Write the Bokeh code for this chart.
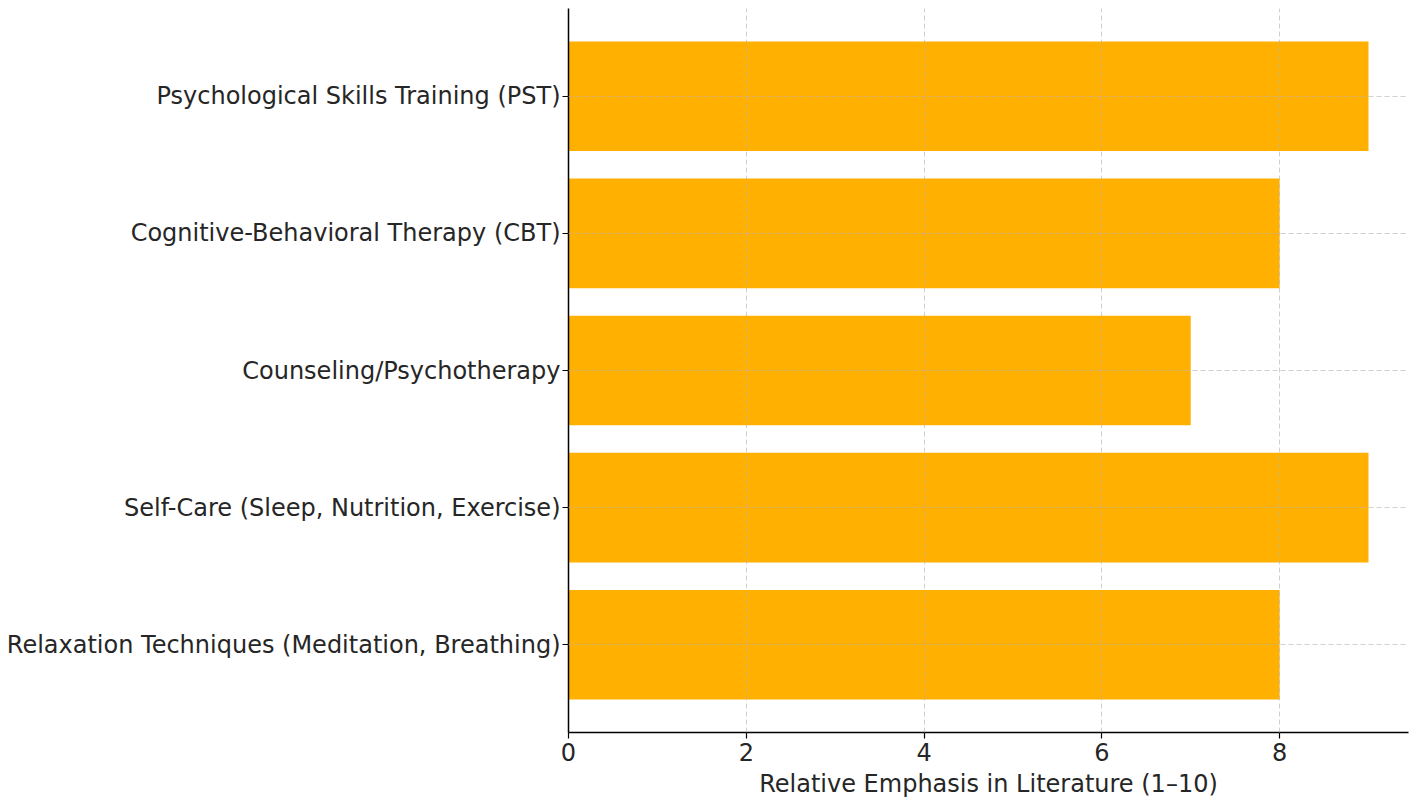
from bokeh.plotting import figure
from bokeh.models import Range1d, FixedTicker
from bokeh.embed import file_html
from bokeh.resources import INLINE

categories = [
    "Relaxation Techniques (Meditation, Breathing)",
    "Self-Care (Sleep, Nutrition, Exercise)",
    "Counseling/Psychotherapy",
    "Cognitive-Behavioral Therapy (CBT)",
    "Psychological Skills Training (PST)",
]
values = [8, 9, 7, 8, 9]
x_ticks = [0, 2, 4, 6, 8]

positions = list(range(len(categories)))

p = figure(width=1412, height=800, output_backend="svg", toolbar_location=None,
           x_range=Range1d(0, 9.45), y_range=Range1d(-0.64, 4.64))
p.min_border_left = 568
p.min_border_right = 4
p.min_border_top = 8
p.min_border_bottom = 66
p.outline_line_color = None

p.hbar(y=positions, right=values, left=0, height=0.8, color="#FFB000", line_color=None)

font = "DejaVu Sans"
for ax in (p.xaxis, p.yaxis):
    ax.axis_line_color = "black"
    ax.axis_line_width = 1.5
    ax.major_tick_line_color = "black"
    ax.major_tick_line_width = 1.2
    ax.major_tick_in = 0
    ax.major_tick_out = 6
    ax.minor_tick_line_color = None
    ax.major_label_text_font = font
    ax.major_label_text_font_size = "24px"
    ax.major_label_text_color = "#262626"

p.xaxis.ticker = FixedTicker(ticks=x_ticks)
p.xaxis.major_label_standoff = 4
p.xaxis.axis_label = "Relative Emphasis in Literature (1\u201310)"
p.xaxis.axis_label_text_font = font
p.xaxis.axis_label_text_font_size = "24px"
p.xaxis.axis_label_text_font_style = "normal"
p.xaxis.axis_label_text_color = "#262626"
p.xaxis.axis_label_standoff = 6

p.yaxis.ticker = FixedTicker(ticks=positions)
p.yaxis.major_label_overrides = {i: c for i, c in enumerate(categories)}
p.yaxis.major_label_standoff = 2

for g in (p.xgrid, p.ygrid):
    g.grid_line_color = "#b0b0b0"
    g.grid_line_alpha = 0.6
    g.grid_line_dash = "5 3"
    g.grid_line_width = 1
    g.level = "annotation"
p.xgrid.ticker = FixedTicker(ticks=x_ticks)
p.ygrid.ticker = FixedTicker(ticks=positions)

open("out.html", "w").write(file_html(p, INLINE))
